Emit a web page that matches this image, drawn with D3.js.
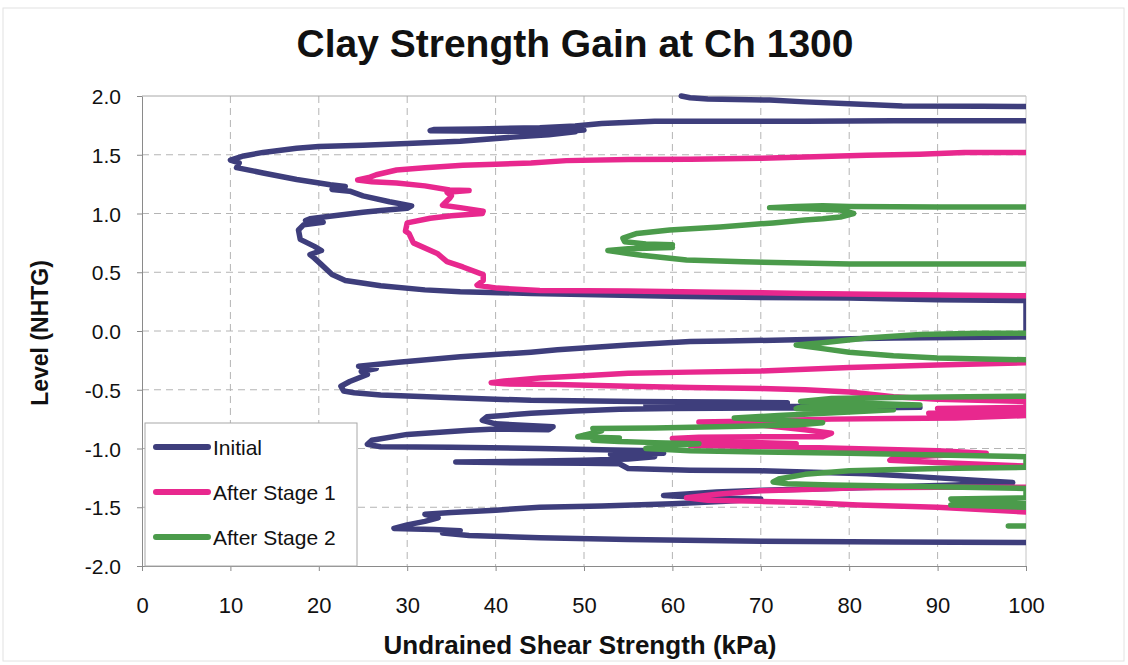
<!DOCTYPE html>
<html lang="en">
<head>
<meta charset="UTF-8">
<title>Clay Strength Gain at Ch 1300</title>
<script src="https://cdn.jsdelivr.net/npm/d3@7"></script>
<style>
    body { margin: 0; background: #fff; }
    text { font-family: "Liberation Sans", Arial, sans-serif; fill: #111; }
    .grid line { stroke: #b4b4b4; stroke-width: 1; stroke-dasharray: 7,5; }
    .axis path, .axis line { stroke: #8a8a8a; }
    .trace { fill: none; stroke-width: 5.5; stroke-linejoin: round; stroke-linecap: round; }
</style>
</head>
<body>
<div id="chart"></div>
<script>
// values: [kPa, level]; null = break in the trace
const initial = [
    [61,2.0],[62,1.985],[64,1.975],[71,1.965],[75,1.95],[80,1.935],[86,1.915],[95,1.912],[100,1.91],
    null,
    [100,1.79],[92,1.79],[85,1.79],[75,1.785],[68,1.785],[58,1.785],[52,1.765],[49,1.745],[45,1.73],[38,1.72],[33,1.715],
    [32.6,1.705],[40,1.70],[48,1.70],[50,1.71],[48,1.72],[40,1.715],[34,1.71],[42,1.705],[49,1.695],[46,1.67],[42,1.65],
    [36,1.615],[30,1.595],[25,1.58],
    [20,1.57],[17.5,1.555],[13.7,1.52],[11.5,1.49],[10,1.455],[11,1.43],[10.7,1.39],[13.7,1.345],[17.5,1.29],[21.3,1.245],
    [23,1.23],[21.5,1.205],[23.5,1.19],[25,1.15],[28,1.10],[30.5,1.065],[30,1.045],[27,1.025],[25,1.01],[21,0.975],
    [19,0.955],[18.5,0.94],[20.5,0.925],[18.3,0.905],[17.7,0.86],[17.9,0.78],[19.5,0.72],[20.3,0.685],[19,0.65],[19.5,0.62],
    [20.3,0.565],[21.5,0.48],[23,0.43],[27,0.385],[32,0.35],[36,0.335],[44,0.32],[50,0.31],[60,0.295],[70,0.285],
    [80,0.28],[90,0.265],[100,0.26],
    [100,-0.05],[92,-0.055],[85,-0.06],[74,-0.075],[66,-0.085],[62,-0.09],[55,-0.12],[47,-0.16],[44,-0.18],[36,-0.22],
    [29,-0.265],[24.5,-0.30],[26.5,-0.32],[24.8,-0.345],[25.5,-0.37],[23.5,-0.43],[22.5,-0.47],[22.8,-0.51],[24,-0.525],
    [27,-0.545],[36,-0.57],[44,-0.59],[56,-0.60],[66,-0.605],[73,-0.61],[62,-0.625],[57,-0.63],[73,-0.64],[81,-0.645],
    [88,-0.65],[81,-0.655],[70,-0.655],[60,-0.66],[54,-0.665],[49,-0.68],[44,-0.70],[39,-0.73],[38.5,-0.76],[40,-0.79],
    [46.5,-0.815],[46,-0.84],[40,-0.835],[37,-0.845],[30,-0.88],[26,-0.93],[25.5,-0.965],[27,-0.985],[35,-0.99],[45,-1.0],
    [52,-1.01],[58,-1.02],[59,-1.04],[53,-1.05],[58,-1.07],[55,-1.09],[50,-1.10],[42,-1.11],[35.5,-1.115],[40,-1.12],
    [50,-1.125],[54,-1.13],[55,-1.17],[62,-1.185],[70,-1.19],[75,-1.20],[82,-1.215],[90,-1.25],[98.5,-1.29],[92,-1.31],
    [85,-1.325],[78,-1.34],[70,-1.355],[65,-1.37],[59,-1.40],[64,-1.42],[70,-1.43],[66,-1.45],[60,-1.47],[52,-1.49],
    [45,-1.50],[40,-1.525],[35,-1.545],[32,-1.56],[33.5,-1.59],[32,-1.62],[30,-1.65],[28.5,-1.68],[33,-1.69],[36,-1.70],
    [34,-1.72],[37,-1.74],[45,-1.76],[55,-1.775],[70,-1.79],[85,-1.795],[100,-1.80]
];

const stage1 = [
    [100,1.52],[93,1.52],[88,1.505],[82,1.495],[75,1.48],[70,1.47],[62,1.462],[55,1.46],[48,1.45],[44,1.43],[40,1.42],
    [36.3,1.41],[32,1.39],[28.8,1.37],[26.5,1.33],[25.8,1.31],[24.4,1.285],[26,1.27],[28.8,1.26],[32,1.235],[34.8,1.20],
    [37,1.195],[34.5,1.18],[35,1.15],[34.8,1.13],[34,1.07],[36,1.05],[38.6,1.02],[38.5,1.0],[35,0.98],[32.6,0.96],
    [30,0.92],[29.8,0.85],[30.2,0.83],[30.7,0.75],[33.4,0.66],[34.5,0.59],[36.3,0.545],[38.6,0.48],[38.6,0.43],[37.9,0.39],
    [40.2,0.365],[45,0.345],[55,0.34],[65,0.33],[75,0.32],[85,0.31],[100,0.30],
    null,
    [100,-0.27],[90,-0.29],[80,-0.31],[70,-0.34],[62,-0.35],[55,-0.36],[50,-0.38],[45,-0.40],[41,-0.425],[39.5,-0.44],
    [41,-0.45],[47,-0.455],[55,-0.47],[62,-0.48],[70,-0.49],[75,-0.50],[80,-0.52],[85,-0.56],[90,-0.58],[100,-0.60],
    [100,-0.65],[90,-0.66],[100,-0.68],[89,-0.70],[100,-0.72],[92,-0.74],[85,-0.745],[78,-0.75],[70,-0.765],[63,-0.775],
    [66,-0.785],[70,-0.80],[75,-0.84],[78,-0.87],[77,-0.9],[70,-0.9],[63,-0.905],[60,-0.915],[62,-0.93],[70,-0.95],
    [74,-0.96],[66,-0.97],[62,-0.975],[72,-0.985],[80,-1.0],[90,-1.02],[95.5,-1.04],[90,-1.06],[85,-1.08],[84.6,-1.10],
    [90,-1.12],[100,-1.15],
    null,
    [100,-1.33],[90,-1.33],[81,-1.335],[75,-1.35],[70,-1.36],[65,-1.39],[61.6,-1.42],[64,-1.44],[70,-1.45],[75,-1.46],
    [81,-1.48],[90,-1.50],[100,-1.54]
];

const stage2 = [
    [100,1.055],[90,1.055],[80,1.06],[77,1.065],[74,1.06],[71,1.05],[74,1.045],[79,1.03],[80.5,1.0],[79,0.97],[77,0.955],
    [75,0.945],[71.4,0.92],[65.4,0.885],[59.7,0.86],[56,0.83],[54.4,0.79],[54.6,0.76],[57,0.74],[60,0.735],[56,0.725],
    [60,0.71],[55,0.70],[52.7,0.685],[55,0.66],[56.5,0.645],[61.6,0.605],[68,0.59],[73,0.58],[80,0.57],[90,0.57],[100,0.57],
    null,
    [100,-0.02],[95,-0.02],[88,-0.03],[82,-0.06],[77,-0.10],[74,-0.12],[77,-0.15],[80,-0.18],[85,-0.21],[90,-0.23],[100,-0.245],
    null,
    [100,-0.555],[85,-0.565],[78,-0.575],[74.5,-0.60],[80,-0.61],[88,-0.63],[75,-0.64],[74,-0.66],[85,-0.67],[80,-0.69],
    [72,-0.72],[67,-0.74],[72,-0.76],[77,-0.78],[74,-0.80],[65,-0.815],[58,-0.825],[51,-0.83],[52,-0.85],[49.3,-0.90],
    [54,-0.91],[51,-0.93],[54,-0.94],[58,-0.95],[63,-0.96],[58,-0.98],[57,-1.0],[62,-1.02],[70,-1.03],[80,-1.04],
    [90,-1.055],[100,-1.07],[100,-1.16],[90,-1.17],[80,-1.19],[75,-1.22],[72,-1.26],[71.4,-1.285],[73,-1.30],[78,-1.31],
    [85,-1.32],[100,-1.34],[100,-1.42],[91.5,-1.43],[92,-1.46],[100,-1.47],[91.5,-1.48],[100,-1.50],
    null,
    [98,-1.66],[100,-1.66]
];

const seriesNames = ["Initial", "After Stage 1", "After Stage 2"];
const seriesColors = ["#3e3e7c", "#e8288e", "#4b9b4b"];
const xTicks = [0, 10, 20, 30, 40, 50, 60, 70, 80, 90, 100];
const yTicks = [-2.0, -1.5, -1.0, -0.5, 0.0, 0.5, 1.0, 1.5, 2.0];

var W = 1128, H = 665;
var margin = { top: 96, right: 102, bottom: 99, left: 142 },
    width = W - margin.left - margin.right,
    height = H - margin.top - margin.bottom;

var root = d3.select("#chart").append("svg")
    .attr("width", W)
    .attr("height", H);

// faint outer frame
root.append("rect")
    .attr("x", 3).attr("y", 8)
    .attr("width", W - 7).attr("height", H - 12)
    .attr("fill", "none")
    .attr("stroke", "#e2e2e2");

var svg = root.append("g")
    .attr("transform", "translate(" + margin.left + "," + margin.top + ")");

var x = d3.scaleLinear().domain([0, 100]).range([0, width]);
var y = d3.scaleLinear().domain([-2, 2]).range([height, 0]);

// grid
svg.append("g").attr("class", "grid")
    .selectAll("line").data(xTicks.slice(1, -1)).enter().append("line")
    .attr("x1", d => x(d)).attr("x2", d => x(d))
    .attr("y1", 0).attr("y2", height);
svg.append("g").attr("class", "grid")
    .selectAll("line").data(yTicks.slice(1, -1)).enter().append("line")
    .attr("x1", 0).attr("x2", width)
    .attr("y1", d => y(d)).attr("y2", d => y(d));

// plot frame (top and right lighter)
svg.append("line").attr("x1", 0).attr("x2", width).attr("y1", 0).attr("y2", 0)
    .attr("stroke", "#a8a8a8");
svg.append("line").attr("x1", width).attr("x2", width).attr("y1", 0).attr("y2", height)
    .attr("stroke", "#c4c4c4");

// traces
svg.append("clipPath").attr("id", "plotclip")
    .append("rect").attr("x", -3).attr("y", -3).attr("width", width + 3).attr("height", height + 3);

var line = d3.line()
    .defined(d => d !== null)
    .x(d => x(d[0]))
    .y(d => y(d[1]));

var traces = svg.append("g").attr("clip-path", "url(#plotclip)");
[initial, stage1, stage2].forEach(function (data, i) {
    traces.append("path")
        .datum(data)
        .attr("class", "trace")
        .attr("stroke", seriesColors[i])
        .attr("d", line);
});

// axes
svg.append("g").attr("class", "axis")
    .attr("transform", "translate(0," + height + ")")
    .call(d3.axisBottom(x).tickValues(xTicks).tickSizeInner(5).tickSizeOuter(0).tickPadding(26))
    .selectAll("text").style("font-size", "22px");

svg.append("g").attr("class", "axis")
    .call(d3.axisLeft(y).tickValues(yTicks).tickFormat(d => d.toFixed(1)).tickSizeInner(5).tickSizeOuter(0).tickPadding(16))
    .selectAll("text").style("font-size", "21px").attr("dy", "0.36em");

svg.selectAll(".axis .domain").attr("stroke", "#8a8a8a");

// legend
var lg = svg.append("g").attr("transform", "translate(3," + (height - 143) + ")");
lg.append("rect")
    .attr("width", 212).attr("height", 143)
    .attr("fill", "#fff")
    .attr("stroke", "#a8a8a8");
seriesNames.forEach(function (name, i) {
    var ly = 24 + i * 45;
    lg.append("line")
        .attr("x1", 11).attr("x2", 63)
        .attr("y1", ly).attr("y2", ly)
        .attr("stroke", seriesColors[i])
        .attr("stroke-width", 6)
        .attr("stroke-linecap", "round");
    lg.append("text")
        .attr("x", 68).attr("y", ly + 8)
        .style("font-size", "21px")
        .text(name);
});

// titles
root.append("text")
    .attr("x", 575).attr("y", 57)
    .attr("text-anchor", "middle")
    .style("font-size", "39px").style("font-weight", "bold")
    .text("Clay Strength Gain at Ch 1300");

root.append("text")
    .attr("x", 580).attr("y", 654)
    .attr("text-anchor", "middle")
    .style("font-size", "26px").style("font-weight", "bold")
    .text("Undrained Shear Strength (kPa)");

root.append("text")
    .attr("transform", "translate(48," + 333 + ") rotate(-90)")
    .attr("text-anchor", "middle")
    .style("font-size", "23px").style("font-weight", "bold")
    .text("Level (NHTG)");
</script>
</body>
</html>
